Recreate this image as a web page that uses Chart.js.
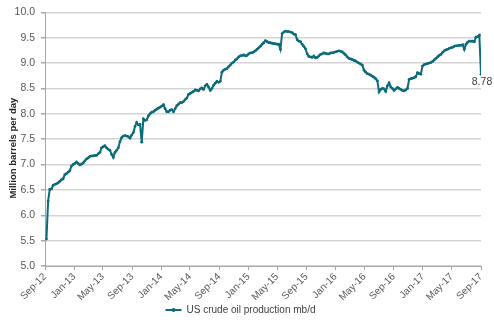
<!DOCTYPE html>
<html>
<head>
<meta charset="utf-8">
<script src="https://cdn.jsdelivr.net/npm/chart.js@4/dist/chart.umd.min.js"></script>
<style>
html,body{margin:0;padding:0;background:#fff;}
#wrap{width:494px;height:322px;position:relative;}
</style>
</head>
<body>
<div id="wrap"><canvas id="c" width="494" height="322"></canvas></div>
<script>
// ---- data ----
const seriesName = 'US crude oil production mb/d';
const yAxisTitle = 'Million barrels per day';
const firstWeek = '2012-09-07';           // date of the first weekly value
const production = [
  5.53, 6.28, 6.51, 6.52, 6.59, 6.61, 6.62, 6.64, 6.67, 6.70,
  6.72, 6.80, 6.82, 6.85, 6.88, 6.97, 7.00, 7.02, 7.05, 7.02,
  6.99, 7.01, 7.03, 7.07, 7.11, 7.13, 7.16, 7.17, 7.17, 7.18,
  7.18, 7.21, 7.24, 7.33, 7.35, 7.37, 7.33, 7.30, 7.28, 7.20,
  7.14, 7.24, 7.28, 7.33, 7.45, 7.53, 7.56, 7.57, 7.56, 7.55,
  7.52, 7.58, 7.63, 7.75, 7.83, 7.78, 7.79, 7.44, 7.90, 7.87,
  7.88, 7.96, 8.00, 8.03, 8.04, 8.07, 8.09, 8.11, 8.13, 8.15,
  8.18, 8.10, 8.04, 8.04, 8.07, 8.08, 8.04, 8.10, 8.16, 8.19,
  8.22, 8.22, 8.24, 8.28, 8.31, 8.38, 8.40, 8.42, 8.44, 8.47,
  8.46, 8.45, 8.49, 8.51, 8.48, 8.55, 8.58, 8.53, 8.46, 8.50,
  8.56, 8.60, 8.64, 8.62, 8.64, 8.82, 8.86, 8.88, 8.89, 8.93,
  8.96, 9.00, 9.02, 9.06, 9.08, 9.12, 9.14, 9.15, 9.16, 9.14,
  9.15, 9.18, 9.20, 9.20, 9.22, 9.24, 9.27, 9.30, 9.33, 9.37,
  9.40, 9.44, 9.42, 9.40, 9.40, 9.39, 9.38, 9.38, 9.37, 9.37,
  9.27, 9.58, 9.61, 9.63, 9.62, 9.62, 9.61, 9.60, 9.57, 9.56,
  9.46, 9.43, 9.42, 9.37, 9.33, 9.28, 9.18, 9.13, 9.12, 9.11,
  9.14, 9.10, 9.11, 9.14, 9.17, 9.18, 9.20, 9.19, 9.18, 9.18,
  9.20, 9.20, 9.21, 9.22, 9.23, 9.24, 9.23, 9.22, 9.19, 9.16,
  9.12, 9.09, 9.08, 9.07, 9.05, 9.04, 9.02, 9.00, 8.98, 8.96,
  8.86, 8.82, 8.79, 8.78, 8.76, 8.74, 8.72, 8.69, 8.65, 8.43,
  8.48, 8.50, 8.49, 8.44, 8.55, 8.61, 8.53, 8.50, 8.46, 8.49,
  8.52, 8.50, 8.48, 8.46, 8.45, 8.47, 8.50, 8.68, 8.69, 8.70,
  8.71, 8.73, 8.81, 8.79, 8.78, 8.94, 8.97, 8.98, 8.99, 9.00,
  9.01, 9.03, 9.06, 9.09, 9.12, 9.15, 9.17, 9.21, 9.24, 9.26,
  9.27, 9.29, 9.30, 9.31, 9.33, 9.34, 9.34, 9.35, 9.35, 9.36,
  9.27, 9.37, 9.41, 9.43, 9.43, 9.43, 9.42, 9.51, 9.52, 9.55,
  8.78
];
const xTickLabels = ['Sep-12','Jan-13','May-13','Sep-13','Jan-14','May-14','Sep-14','Jan-15',
                     'May-15','Sep-15','Jan-16','May-16','Sep-16','Jan-17','May-17','Sep-17'];
const yMin = 5.0, yMax = 10.0, yStep = 0.5;

// ---- helpers ----
const MONTHS = ['Jan','Feb','Mar','Apr','May','Jun','Jul','Aug','Sep','Oct','Nov','Dec'];
function labelToUTC(l){ const [m,y]=l.split('-'); return Date.UTC(2000+parseInt(y,10), MONTHS.indexOf(m), 1); }
const originUTC = labelToUTC(xTickLabels[0]);
const DAY = 86400000;
const toDay = t => (t - originUTC) / DAY;
const tickDays = xTickLabels.map(l => toDay(labelToUTC(l)));
const [fy,fm,fd] = firstWeek.split('-').map(Number);
const firstDay = toDay(Date.UTC(fy, fm-1, fd));
const points = production.map((v,i) => ({x: firstDay + 7*i, y: v}));

const TEAL = '#0b6b78';
const FONT = "'Liberation Sans', Arial, sans-serif";
const TXT = '#595959';
const LEGEND_BOX = 16;

const extrasPlugin = {
  id: 'extras',
  afterDatasetsDraw(chart){
    const meta = chart.getDatasetMeta(0);
    const pt = meta.data[meta.data.length-1];
    const v = production[production.length-1];
    const ctx = chart.ctx;
    ctx.save();
    ctx.font = '10.5px ' + FONT;
    ctx.fillStyle = '#404040';
    ctx.textAlign = 'center';
    ctx.textBaseline = 'middle';
    ctx.fillText(v.toFixed(2), pt.x + 1, pt.y + 8);
    ctx.restore();
  },
  afterDraw(chart){
    const ctx = chart.ctx;
    // y-axis title (rotated), slightly below the plot's vertical centre as in the original
    const ca = chart.chartArea;
    ctx.save();
    ctx.translate(13.5, (ca.top + ca.bottom) / 2 + 9);
    ctx.rotate(-Math.PI / 2);
    ctx.font = 'bold 9.5px ' + FONT;
    ctx.fillStyle = '#262626';
    ctx.textAlign = 'center';
    ctx.textBaseline = 'middle';
    ctx.fillText(yAxisTitle, 0, 0);
    ctx.restore();
    // marker dot in the legend line sample
    const lg = chart.legend;
    if (lg && lg.legendHitBoxes && lg.legendHitBoxes.length) {
      const hb = lg.legendHitBoxes[0];
      ctx.save();
      ctx.fillStyle = TEAL;
      ctx.beginPath();
      ctx.arc(hb.left + LEGEND_BOX/2, hb.top + hb.height/2, 2, 0, Math.PI*2);
      ctx.fill();
      ctx.restore();
    }
  }
};

new Chart(document.getElementById('c'), {
  type: 'line',
  data: {
    datasets: [{
      label: seriesName,
      data: points,
      borderColor: TEAL,
      backgroundColor: TEAL,
      borderWidth: 2,
      pointRadius: 1.4,
      pointBorderWidth: 0,
      pointBackgroundColor: TEAL,
      tension: 0
    }]
  },
  options: {
    responsive: false,
    animation: false,
    devicePixelRatio: 1,
    layout: { padding: { left: 0, right: 13, top: 11, bottom: -3 } },
    plugins: {
      tooltip: { enabled: false },
      legend: {
        display: true,
        position: 'bottom',
        labels: {
          boxWidth: LEGEND_BOX,
          boxHeight: 2,
          padding: 1,
          color: '#404040',
          font: { family: FONT, size: 10 },
          generateLabels: (chart) => Chart.defaults.plugins.legend.labels.generateLabels(chart)
            .map(it => Object.assign(it, { lineWidth: 0, fillStyle: TEAL }))
        }
      }
    },
    scales: {
      x: {
        type: 'linear',
        min: tickDays[0],
        max: tickDays[tickDays.length-1],
        afterBuildTicks: (scale) => { scale.ticks = tickDays.map(v => ({value: v})); },
        afterFit: (scale) => { scale.height = 38; },
        ticks: {
          autoSkip: false,
          minRotation: 45,
          maxRotation: 45,
          padding: 1,
          color: TXT,
          font: { family: FONT, size: 10 },
          callback: (v, i) => xTickLabels[i]
        },
        grid: { drawOnChartArea: false, drawTicks: true, tickLength: 4, color: '#a6a6a6' },
        border: { display: true, color: '#a6a6a6', width: 1 }
      },
      y: {
        min: yMin,
        max: yMax,
        afterFit: (scale) => { scale.width = 45; },
        ticks: {
          stepSize: yStep,
          padding: 6,
          color: TXT,
          font: { family: FONT, size: 10.5 },
          callback: v => Number(v).toFixed(1)
        },
        grid: { color: '#d4d4d4', lineWidth: 1.5, tickLength: 4, tickColor: '#a6a6a6' },
        border: { display: true, color: '#a6a6a6', width: 1 },
        title: { display: false }
      }
    }
  },
  plugins: [extrasPlugin]
});
</script>
</body>
</html>
